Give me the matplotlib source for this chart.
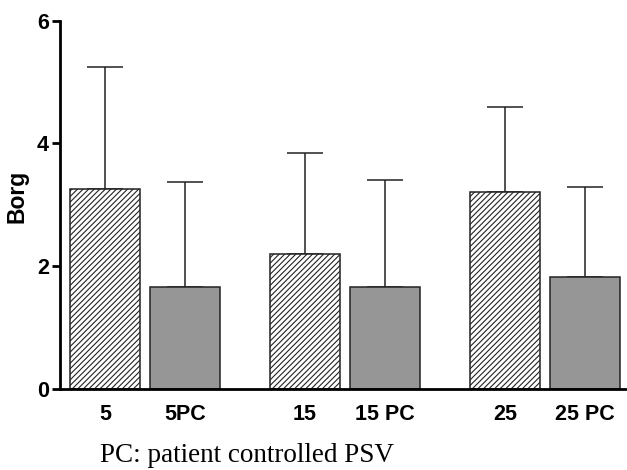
import numpy as np
import matplotlib
matplotlib.use('Agg')
import matplotlib.pyplot as plt

# Borg dyspnoea score, mean and SD
labels = ['5', '5PC', '15', '15 PC', '25', '25 PC']
means = [3.26, 1.66, 2.20, 1.66, 3.21, 1.82]
sds = [1.98, 1.72, 1.64, 1.74, 1.39, 1.47]
hatched = [True, False, True, False, True, False]

plt.rcParams['hatch.linewidth'] = 0.8
plt.rcParams['hatch.color'] = '#333333'

fig = plt.figure(figsize=(6.27, 4.70), dpi=100)
ax = fig.add_axes([0.0957, 0.1723, 0.9043, 0.7837])

x = np.array([0.0, 0.8, 2.0, 2.8, 4.0, 4.8])
for xi, m, s, h in zip(x, means, sds, hatched):
    if h:
        ax.bar(xi, m, width=0.7, facecolor='white', edgecolor='#222222',
               hatch='//////', linewidth=1.1, zorder=2)
    else:
        ax.bar(xi, m, width=0.7, facecolor='#969696', edgecolor='#222222',
               linewidth=1.1, zorder=2)
    ax.errorbar(xi, m, yerr=[[0], [s]], fmt='none', ecolor='#222222',
                elinewidth=1.1, capsize=13, capthick=1.1, zorder=1)

ax.set_xlim(-0.45, 5.22)
ax.set_ylim(0, 6)
ax.set_yticks([0, 2, 4, 6])
ax.set_xticks(x)
ax.set_xticklabels(labels)

for side in ['top', 'right']:
    ax.spines[side].set_visible(False)
ax.spines['left'].set_linewidth(2)
ax.spines['bottom'].set_linewidth(2)
ax.tick_params(axis='x', length=0, pad=11)
ax.tick_params(axis='y', length=6, width=2, pad=2)
for t in ax.get_xticklabels() + ax.get_yticklabels():
    t.set_fontfamily('Liberation Sans')
    t.set_fontweight('bold')
    t.set_fontsize(15.5)

ax.set_ylabel('Borg', fontfamily='Liberation Sans', fontweight='bold',
              fontsize=16.5)
ax.yaxis.set_label_coords(-0.056, 0.524)

fig.text(0.16, 0.016, 'PC: patient controlled PSV', fontfamily='Liberation Serif',
         fontsize=19.5, ha='left', va='baseline')

plt.savefig('out.png', dpi=100)
